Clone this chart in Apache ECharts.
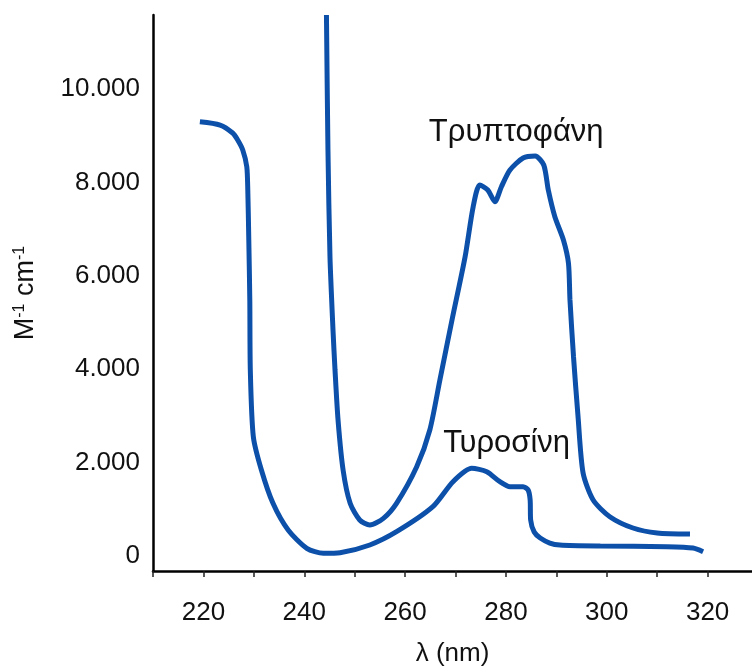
<!DOCTYPE html>
<html>
<head>
<meta charset="utf-8">
<title>Τυροσίνη / Τρυπτοφάνη</title>
<script src="https://cdn.jsdelivr.net/npm/echarts@6/dist/echarts.min.js"></script>
<style>
html, body { margin: 0; padding: 0; background: #fff; }
#main { width: 752px; height: 668px; }
</style>
</head>
<body>
<div id="main"></div>
<script>
// λ (nm) και τιμές (M-1 cm-1), διαβασμένες από την εικόνα
var tyrNm  = [219.3, 223.3, 225.8, 226.8, 227.8, 228.6, 228.8, 229.0, 229.2, 229.3, 229.9, 231.5, 233.8, 236.8, 240.5, 243.8, 247.1, 253.0, 258.3, 265.5, 269.5, 273.2, 276.2, 278.8, 280.8, 283.4, 284.4, 284.8, 284.9, 285.6, 286.8, 288.7, 290.7, 298.7, 311.9, 317.1, 319.1];
var tyrVal = [9300, 9229, 9058, 8908, 8694, 8336, 7837, 6767, 5482, 3983, 2555, 1842, 1128, 557, 165, 58, 71, 236, 520, 1056, 1591, 1878, 1805, 1591, 1484, 1484, 1413, 1199, 771, 514, 385, 278, 236, 214, 199, 171, 92];

var trpNm  = [244.4, 244.7, 245.1, 245.7, 246.1, 246.7, 247.7, 249.1, 251.0, 253.0, 255.7, 258.3, 262.3, 264.9, 266.9, 269.3, 271.9, 273.5, 274.8, 276.4, 277.8, 279.1, 280.8, 283.4, 285.8, 287.5, 288.4, 289.7, 291.4, 292.4, 292.7, 293.4, 294.3, 295.3, 297.3, 300.6, 305.2, 310.0, 316.5];
var trpVal = [11585, 8694, 6409, 4839, 3983, 2912, 1842, 1128, 771, 664, 807, 1128, 1912, 2698, 3769, 5054, 6409, 7480, 7944, 7837, 7587, 7908, 8266, 8522, 8565, 8373, 7837, 7266, 6767, 6268, 5482, 4268, 2983, 1777, 1199, 842, 600, 493, 471];

var yTicks = [0, 2000, 4000, 6000, 8000, 10000];
var xLabels = [220, 240, 260, 280, 300, 320];

var trpLabel = { name: 'Τρυπτοφάνη', nm: 285.8, val: 8565 };
var tyrLabel = { name: 'Τυροσίνη', nm: 273.2, val: 1878 };

function pairs(xs, ys) {
	return xs.map(function (x, i) { return [x, ys[i]]; });
}

var myChart = echarts.init(document.getElementById('main'));
var blue = '#0c50aa';
var font = '"Liberation Sans", Arial, sans-serif';

function peakText(lbl, off) {
	return {
		symbol: 'circle',
		symbolSize: 1,
		itemStyle: { color: 'rgba(0,0,0,0)' },
		label: {
			show: true,
			position: 'top',
			distance: 5,
			offset: off,
			color: '#111',
			fontSize: 31,
			fontFamily: font,
			formatter: lbl.name
		},
		data: [{ coord: [lbl.nm, lbl.val] }]
	};
}

var option = {
	backgroundColor: '#fff',
	animation: false,
	grid: { left: 153, right: 0, top: 15, bottom: 97, outerBoundsMode: 'none' },
	xAxis: {
		type: 'value',
		min: 210,
		max: 328.8,
		interval: 10,
		name: 'λ (nm)',
		nameLocation: 'middle',
		nameGap: 70,
		nameTextStyle: { color: '#111', fontSize: 26, fontFamily: font },
		axisLine: { onZero: false, lineStyle: { color: '#000', width: 2.5 } },
		axisTick: { show: true, length: 6, lineStyle: { color: '#222', width: 1.5 } },
		axisLabel: {
			color: '#111',
			fontSize: 26,
			fontFamily: font,
			margin: 29,
			showMaxLabel: false,
			formatter: function (v) {
				return xLabels.indexOf(v) >= 0 ? String(v) : '';
			}
		},
		splitLine: { show: false }
	},
	yAxis: {
		type: 'value',
		min: -321,
		max: 11585,
		name: 'M{sup|-1} cm{sup|-1}',
		nameLocation: 'middle',
		nameRotate: 90,
		nameGap: 113,
		nameTextStyle: {
			color: '#111', fontSize: 27, fontFamily: font,
			rich: { sup: { fontSize: 16, verticalAlign: 'top', color: '#111', fontFamily: font, padding: [0, 0, 12, 0] } }
		},
		axisLine: { show: true, onZero: false, lineStyle: { color: '#000', width: 2.5 } },
		axisTick: { show: false },
		axisLabel: {
			customValues: yTicks,
			color: '#111',
			fontSize: 26,
			fontFamily: font,
			margin: 13,
			formatter: function (v) {
				return v === 0 ? '0' : (v / 1000) + '.000';
			}
		},
		splitLine: { show: false }
	},
	series: [{
		name: 'Τυροσίνη',
		type: 'line',
		data: pairs(tyrNm, tyrVal),
		showSymbol: false,
		smooth: 0.25,
		lineStyle: { color: blue, width: 5 },
		markPoint: peakText(tyrLabel, [35, -4])
	}, {
		name: 'Τρυπτοφάνη',
		type: 'line',
		data: pairs(trpNm, trpVal),
		showSymbol: false,
		smooth: 0.25,
		lineStyle: { color: blue, width: 5 },
		markPoint: peakText(trpLabel, [-19, -3])
	}]
};

myChart.setOption(option);
</script>
</body>
</html>
